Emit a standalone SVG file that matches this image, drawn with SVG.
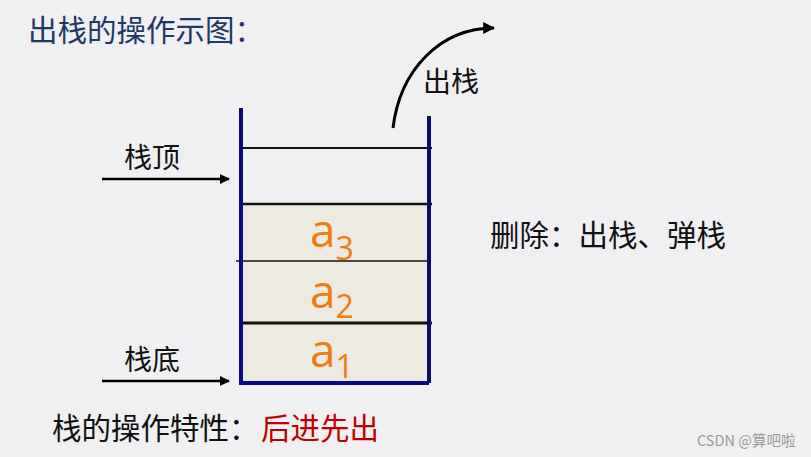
<svg xmlns="http://www.w3.org/2000/svg" width="811" height="457" viewBox="0 0 811 457">
<defs>
<style>
.cn{font-family:"Noto Sans CJK SC","Liberation Sans",sans-serif;}
.lat{font-family:"Open Sans","Liberation Sans",sans-serif;fill:#ee7d11;}
.wall{stroke:#0a0a78;stroke-width:4;fill:none;}
.ln{stroke:#111;fill:none;}
</style>
<marker id="ah" viewBox="0 0 10 10" refX="9" refY="5" markerWidth="10" markerHeight="10" markerUnits="userSpaceOnUse" orient="auto">
<path d="M0,0 L10,5 L0,10 Z" fill="#000"/>
</marker>
<marker id="ah2" viewBox="0 0 10 10" refX="9" refY="5" markerWidth="12" markerHeight="12" markerUnits="userSpaceOnUse" orient="auto">
<path d="M0,0 L10,5 L0,10 Z" fill="#000"/>
</marker>
</defs>
<rect width="811" height="457" fill="#f0f0f2"/>
<text class="cn" x="28" y="41" font-size="29.5" fill="#1f3864">出栈的操作示图：</text>

<g id="stack">
<rect x="242" y="203" width="186" height="178" fill="#eceae1"/>
<line class="ln" x1="243" y1="148" x2="432" y2="148" stroke-width="2"/>
<line class="ln" x1="243" y1="204" x2="432" y2="204" stroke-width="2.5"/>
<line class="ln" x1="236" y1="261" x2="427" y2="261" stroke-width="1.5"/>
<line class="ln" x1="241" y1="323" x2="432" y2="323" stroke-width="3"/>
<path class="wall" d="M241,108 V383 H429 M429,116 V383"/>
<text class="lat" x="310" y="247" font-size="46">a<tspan font-size="32" dy="13">3</tspan></text>
<text class="lat" x="310" y="308" font-size="46">a<tspan font-size="32" dy="10">2</tspan></text>
<text class="lat" x="310" y="367" font-size="46">a<tspan font-size="32" dy="11">1</tspan></text>
</g>

<g id="top-label">
<text class="cn" x="124" y="168" font-size="28" fill="#111">栈顶</text>
</g>
<g id="bottom-label">
<text class="cn" x="124" y="370" font-size="28" fill="#111">栈底</text>
</g>
<g id="pop-label">
<text class="cn" x="423" y="92" font-size="28" fill="#111">出栈</text>
</g>
<g id="delete-label">
<text class="cn" x="490" y="246" font-size="29.5" fill="#111">删除：出栈、弹栈</text>
</g>

<g id="connectors">
<line x1="102" y1="179" x2="229" y2="179" stroke="#000" stroke-width="2.5" marker-end="url(#ah)"/>
<line x1="102" y1="381" x2="229" y2="381" stroke="#000" stroke-width="2.5" marker-end="url(#ah)"/>
<path d="M393,128 C400,70 440,28 494,28" fill="none" stroke="#000" stroke-width="3" marker-end="url(#ah2)"/>
</g>

<text class="cn" x="52" y="439" font-size="29.5" fill="#111">栈的操作特性：<tspan fill="#c00000" x="261">后进先出</tspan></text>
<text class="cn" x="697" y="446" font-size="14.5" fill="#999">CSDN @算吧啦</text>
</svg>
